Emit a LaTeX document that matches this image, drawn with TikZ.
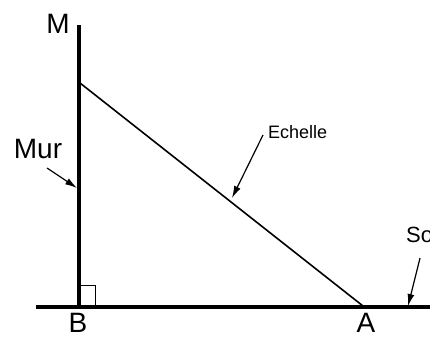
\documentclass[tikz,border=0pt]{standalone}
\usepackage{fontspec}
\setmainfont{Liberation Sans}
\usetikzlibrary{arrows.meta}
\begin{document}
\begin{tikzpicture}[x=1pt,y=-1pt,
  thick line/.style={line width=4pt},
  ladder/.style={line width=1.6pt},
  pointer/.style={line width=1.2pt,-{Latex[length=12pt,width=7pt]}},
  big/.style={font=\fontsize{28}{30}\selectfont,inner sep=0pt},
  small/.style={font=\fontsize{18}{20}\selectfont,inner sep=0pt,anchor=west}]
\useasboundingbox (0,0) rectangle (430,338);
\clip (0,0) rectangle (430,338);
\fill[white] (0,0) rectangle (430,338);
% points
\coordinate (M) at (79,25);
\coordinate (B) at (79,307);
\coordinate (G0) at (36,307);
\coordinate (G1) at (432,307);
\coordinate (L) at (80,83);
\coordinate (A) at (363,306);
% wall and ground
\draw[thick line] (M) -- (B);
\draw[thick line] (G0) -- (G1);
% ladder
\draw[ladder] (L) -- (A);
% right angle
\draw[line width=1pt] (80,285) -- (95,285) -- (95,306);
% labels
\node[big] (lM) at (58,24) {M};
\node[big] (lMur) at (38,149) {Mur};
\node[big] (lB) at (78,323) {B};
\node[big] (lA) at (366,323) {A};
\node[small] (lE) at (268,132) {Echelle};
\node[small,font=\fontsize{22}{24}\selectfont] (lS) at (406,235) {Sol};
% pointers
\coordinate (mur0) at (47,168);
\coordinate (mur1) at (77,188);
\draw[pointer] (mur0) -- (mur1);
\coordinate (ech0) at (263,135);
\coordinate (ech1) at (232,198);
\draw[pointer] (ech0) -- (ech1);
\coordinate (sol0) at (420,258);
\coordinate (sol1) at (408,306);
\draw[pointer] (sol0) -- (sol1);
\end{tikzpicture}
\end{document}
